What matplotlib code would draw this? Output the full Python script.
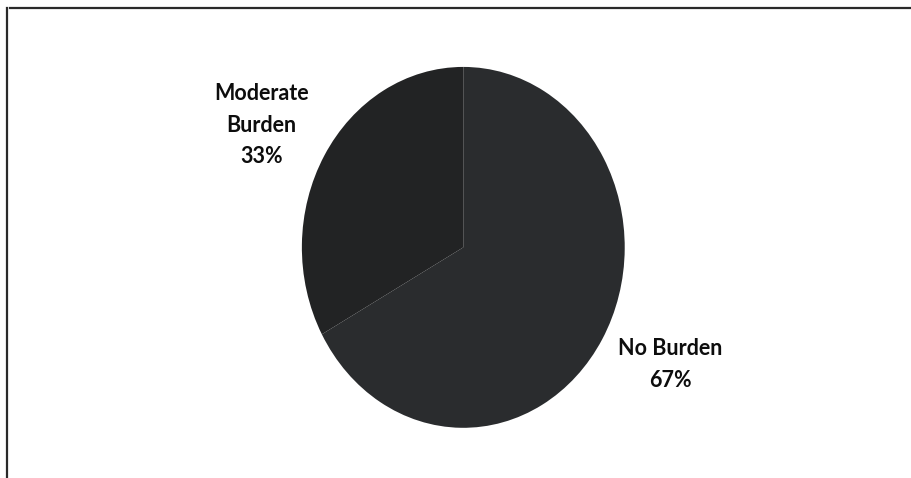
import matplotlib.pyplot as plt
from matplotlib.lines import Line2D

# Data
labels = ["No Burden", "Moderate\nBurden"]
shares = [67, 33]
colors = ["#2a2c2e", "#222324"]

fig = plt.figure(figsize=(9.12, 4.78), dpi=100)
fig.patch.set_facecolor("white")

# pie stretched vertically like the scanned original
ax = fig.add_axes([0.331, 0.105, 0.354, 0.755])
ax.pie(shares, colors=colors, startangle=90, counterclock=False,
       wedgeprops=dict(linewidth=0))
ax.set_aspect("auto")
ax.set_xlim(-1, 1)
ax.set_ylim(-1, 1)
ax.axis("off")

# labels outside the pie
lab_pos = [(0.735, 0.237), (0.287, 0.738)]
for lab, val, (x, y) in zip(labels, shares, lab_pos):
    fig.text(x, y, f"{lab}\n{val}%", ha="center", va="center",
             fontsize=15.5, fontweight="bold", family="Lato",
             color="#0d0d0d", linespacing=1.62)

# frame lines from the scan (top and left only)
fig.add_artist(Line2D([0.011, 1.0], [0.983, 0.983], color="#2a2a2a", lw=1.6,
                      transform=fig.transFigure))
fig.add_artist(Line2D([0.008, 0.008], [0.0, 0.983], color="#2a2a2a", lw=1.6,
                      transform=fig.transFigure))

fig.savefig("out.png", dpi=100, facecolor="white")
